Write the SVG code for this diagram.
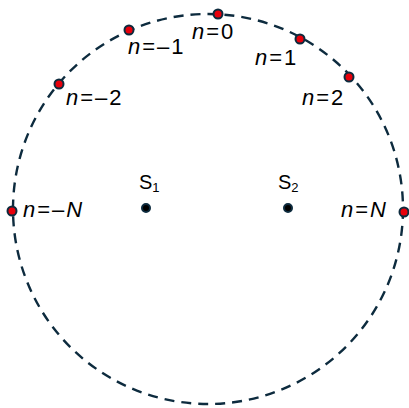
<svg xmlns="http://www.w3.org/2000/svg" width="409" height="408" viewBox="0 0 409 408">
<style>
.ring{fill:none;stroke:#0d2b3e;stroke-width:2.4;stroke-dasharray:10 7}
.pt{fill:#e8000b;stroke:#0d2b3e;stroke-width:2}
.src{fill:#000;stroke:#0d2b3e;stroke-width:2}
text{font-family:"Liberation Sans",Arial,sans-serif;fill:#000}
.lbl{font-size:22px;letter-spacing:2px}
.i{font-style:italic}
.s{font-size:20px}
.sub{font-size:13px}
</style>
<rect width="409" height="408" fill="#fff"/>
<g id="connectors">
<circle class="ring" cx="208" cy="209" r="195"/>
</g>
<g id="n0"><circle class="pt" cx="218" cy="14" r="4.5"/><text class="lbl" x="192" y="39"><tspan class="i">n</tspan>=0</text></g>
<g id="nm1"><circle class="pt" cx="129" cy="30" r="4.5"/><text class="lbl" x="128" y="54"><tspan class="i">n</tspan>=–1</text></g>
<g id="n1"><circle class="pt" cx="300" cy="39" r="4.5"/><text class="lbl" x="255" y="65"><tspan class="i">n</tspan>=1</text></g>
<g id="nm2"><circle class="pt" cx="59" cy="84" r="4.5"/><text class="lbl" x="66" y="105"><tspan class="i">n</tspan>=–2</text></g>
<g id="n2"><circle class="pt" cx="349" cy="77" r="4.5"/><text class="lbl" x="302" y="105"><tspan class="i">n</tspan>=2</text></g>
<g id="nmN"><circle class="pt" cx="12" cy="211" r="4.5"/><text class="lbl" x="23" y="217"><tspan class="i">n</tspan>=–<tspan class="i">N</tspan></text></g>
<g id="nN"><circle class="pt" cx="404" cy="212" r="4.5"/><text class="lbl" x="341" y="217"><tspan class="i">n</tspan>=<tspan class="i">N</tspan></text></g>
<g id="S1"><circle class="src" cx="146" cy="208" r="4"/><text class="s" x="139" y="189">S<tspan class="sub" dy="3">1</tspan></text></g>
<g id="S2"><circle class="src" cx="288" cy="208" r="4"/><text class="s" x="278" y="189">S<tspan class="sub" dy="3">2</tspan></text></g>
</svg>
